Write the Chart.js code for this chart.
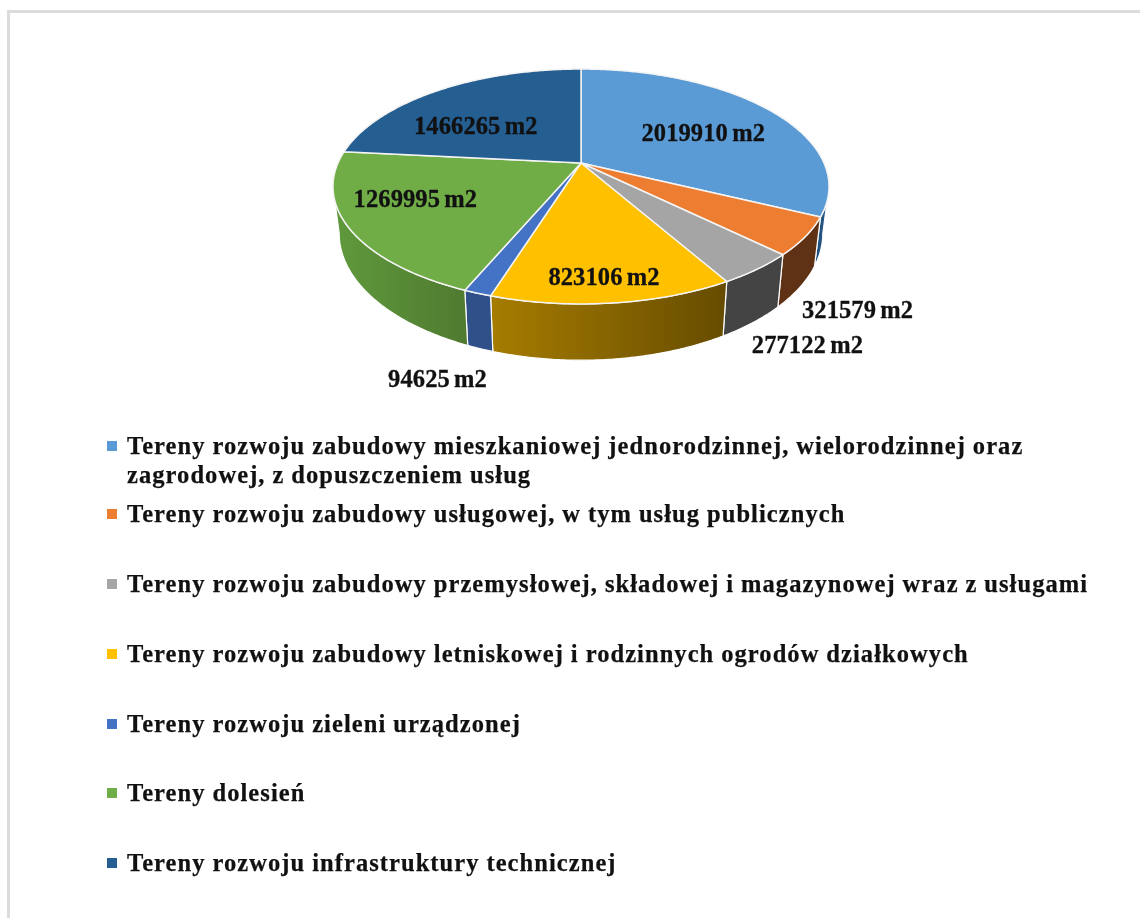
<!DOCTYPE html>
<html>
<head>
<meta charset="utf-8">
<title>Tereny rozwoju</title>
<script src="https://cdn.jsdelivr.net/npm/chart.js@4"></script>
<style>
html, body { margin: 0; padding: 0; background: #fff; }
#wrap { position: relative; width: 1140px; height: 918px; overflow: hidden; }
#frame { position: absolute; left: 7px; top: 10px; right: -10px; bottom: -10px; border: 3px solid #dcdcdc; }
#myChart { position: absolute; left: 0; top: 0; }
#legend div { position: absolute; left: 127px; width: 985px; font: bold 24.5px/29px "Liberation Serif", serif; letter-spacing: 1.07px; word-spacing: -0.3px; color: #111; -webkit-text-stroke: 0.25px #111; }
#legend i { position: absolute; left: -20px; top: 10px; width: 10px; height: 10px; -webkit-text-stroke: 0; }
</style>
</head>
<body>
<div id="wrap">
    <div id="frame"></div>
    <canvas id="myChart" width="1140" height="918"></canvas>
    <div id="legend"></div>
</div>
<script>
const categories = [
    'Tereny rozwoju zabudowy mieszkaniowej jednorodzinnej, wielorodzinnej oraz zagrodowej, z dopuszczeniem usług',
    'Tereny rozwoju zabudowy usługowej, w tym usług publicznych',
    'Tereny rozwoju zabudowy przemysłowej, składowej i magazynowej wraz z usługami',
    'Tereny rozwoju zabudowy letniskowej i rodzinnych ogrodów działkowych',
    'Tereny rozwoju zieleni urządzonej',
    'Tereny dolesień',
    'Tereny rozwoju infrastruktury technicznej'
];
const areas = [2019910, 321579, 277122, 823106, 94625, 1269995, 1466265];
const unit = ' m2';

const topColors = ['#5b9bd5', '#ed7d31', '#a5a5a5', '#ffc000', '#4472c4', '#70ad47', '#255e91'];
const wallLeft = ['#1f4e79', '#5f3216', '#444444', '#a67c00', '#2f5089', '#609a3c', '#1f4e79'];
const wallRight = ['#2a5a88', '#5f3216', '#444444', '#664c00', '#2f5089', '#4f7a30', '#1f4e79'];

// where each value label sits, relative to its slice
const labelRadius = [0.7, 1, 1, 0.7, 1, 0.7, 0.7];
const labelNudge = [[-12, 11], [52, 75], [50, 78], [2, 24], [-40, 87], [-8, -6], [-2, 18]];
const legendRowY = [431, 499, 569, 639, 709, 778, 848];

// perspective of the tilted disc
const persp = 0.2;
const tilt = 0.464;
const drop = 45;
const lowerTilt = 1.08;
const lowerScale = 0.975;

function project(arc, angle, r, lower) {
    const u = r * Math.cos(angle);
    const b = -r * Math.sin(angle);
    const w = 1 + persp * b;
    const R = arc.outerRadius;
    if (lower) {
        return {
            x: arc.x + lowerScale * R * u / w,
            y: arc.y + drop - lowerTilt * R * tilt * b / w
        };
    }
    return { x: arc.x + R * u / w, y: arc.y - R * tilt * b / w };
}

function arcPoints(arc, a0, a1, lower) {
    const steps = Math.max(2, Math.ceil((a1 - a0) / 0.01));
    const pts = [];
    for (let i = 0; i <= steps; i++) {
        pts.push(project(arc, a0 + (a1 - a0) * i / steps, 1, lower));
    }
    return pts;
}

function tracePath(ctx, pts) {
    ctx.beginPath();
    pts.forEach((p, i) => i ? ctx.lineTo(p.x, p.y) : ctx.moveTo(p.x, p.y));
    ctx.closePath();
}

const pie3d = {
    id: 'pie3d',
    beforeDatasetDraw(chart, args) {
        const ctx = chart.ctx;
        const arcs = args.meta.data;
        ctx.save();
        ctx.lineJoin = 'round';

        // side walls, only the part turned towards the viewer
        const visStart = Math.asin(persp);
        const visEnd = Math.PI - visStart;
        arcs.forEach((arc, i) => {
            const a0 = Math.max(arc.startAngle, visStart);
            const a1 = Math.min(arc.endAngle, visEnd);
            if (a1 <= a0) return;
            const upper = arcPoints(arc, a0, a1, false);
            const lower = arcPoints(arc, a0, a1, true).reverse();
            const pts = upper.concat(lower);
            const xs = pts.map(p => p.x);
            const grad = ctx.createLinearGradient(Math.min(...xs), 0, Math.max(...xs), 0);
            grad.addColorStop(0, wallLeft[i]);
            grad.addColorStop(1, wallRight[i]);
            tracePath(ctx, pts);
            ctx.fillStyle = grad;
            ctx.fill();
            ctx.strokeStyle = '#fff';
            ctx.lineWidth = 1.2;
            ctx.stroke();
        });

        // top faces
        arcs.forEach(arc => {
            const pts = [project(arc, 0, 0, false)].concat(arcPoints(arc, arc.startAngle, arc.endAngle, false));
            tracePath(ctx, pts);
            ctx.fillStyle = arc.options.backgroundColor;
            ctx.fill();
            ctx.strokeStyle = '#f4f4f4';
            ctx.lineWidth = 1.5;
            ctx.stroke();
        });

        // value labels
        ctx.font = 'bold 24.5px "Liberation Serif", serif';
        ctx.wordSpacing = '-2px';
        ctx.letterSpacing = '0.1px';
        ctx.fillStyle = '#111';
        ctx.strokeStyle = '#111';
        ctx.lineWidth = 0.3;
        ctx.textAlign = 'center';
        ctx.textBaseline = 'middle';
        arcs.forEach((arc, i) => {
            const mid = (arc.startAngle + arc.endAngle) / 2;
            const p = project(arc, mid, labelRadius[i], false);
            const text = areas[i] + unit;
            ctx.fillText(text, p.x + labelNudge[i][0], p.y + labelNudge[i][1]);
            ctx.strokeText(text, p.x + labelNudge[i][0], p.y + labelNudge[i][1]);
        });
        ctx.restore();
        return false;
    }
};

const chart = new Chart(document.getElementById('myChart').getContext('2d'), {
    type: 'pie',
    data: {
        labels: categories,
        datasets: [{
            data: areas,
            backgroundColor: topColors,
            radius: 243
        }]
    },
    options: {
        responsive: false,
        animation: false,
        layout: { padding: { left: 22, bottom: 592 } },
        plugins: { legend: { display: false }, tooltip: { enabled: false } }
    },
    plugins: [pie3d]
});

const legend = document.getElementById('legend');
categories.forEach((name, i) => {
    const row = document.createElement('div');
    row.style.top = legendRowY[i] + 'px';
    row.textContent = name;
    const box = document.createElement('i');
    box.style.background = topColors[i];
    row.appendChild(box);
    legend.appendChild(row);
});
</script>
</body>
</html>
